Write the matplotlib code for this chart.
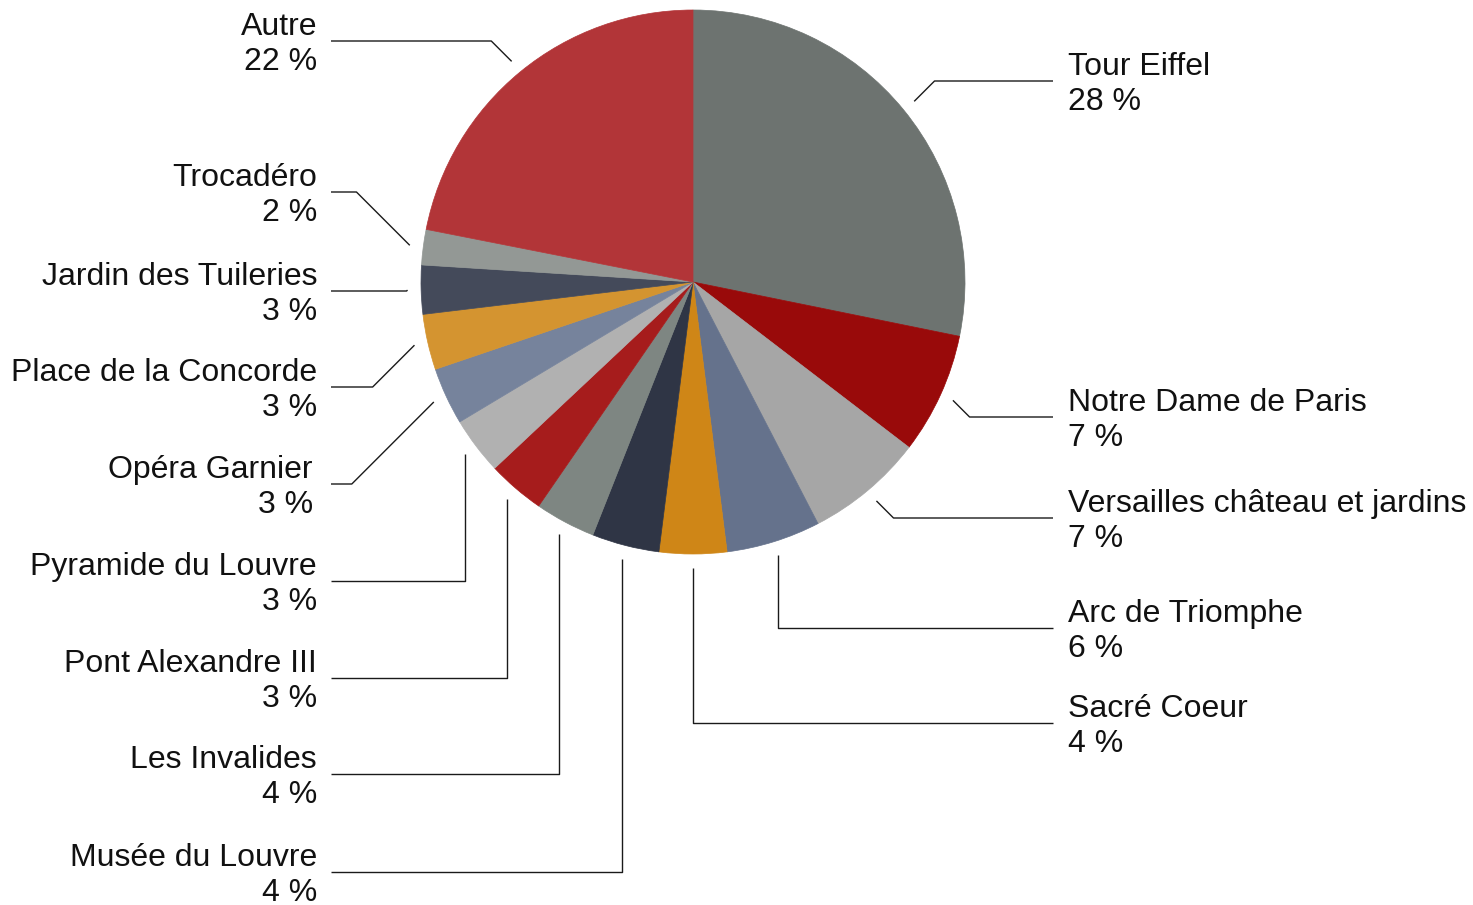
import math
import matplotlib.pyplot as plt

# data: share of visits (%), clockwise from the top
names = ["Tour Eiffel", "Notre Dame de Paris", "Versailles château et jardins",
         "Arc de Triomphe", "Sacré Coeur", "Musée du Louvre", "Les Invalides",
         "Pont Alexandre III", "Pyramide du Louvre", "Opéra Garnier",
         "Place de la Concorde", "Jardin des Tuileries", "Trocadéro", "Autre"]
values = [28.2, 7.2, 7.0, 5.6, 4.0, 4.0, 3.6, 3.4, 3.4, 3.4, 3.3, 2.9, 2.1, 21.9]
colors = ["#6d7370", "#990a0a", "#a6a6a6", "#65728c", "#cf8617", "#2f3545",
          "#7e8682", "#a61c1c", "#b1b1b1", "#76839c", "#d49430", "#444a5a",
          "#939895", "#b23538"]

# layout (pixels, y from top)
W, H = 1473, 905
cx, cy, R = 693, 282, 272
label_y = [81, 417, 518, 628, 723, 872, 774, 678, 581, 484, 387, 291, 192, 41]
leader = ["d", "d", "d", "v", "v", "v", "v", "v", "v", "d", "d", "d", "d", "d"]

plt.rcParams['font.family'] = ['Liberation Sans', 'DejaVu Sans']

fig = plt.figure(figsize=(W / 100, H / 100), dpi=100)
ax = fig.add_axes([0, 0, 1, 1])

wedges, _ = ax.pie(values, colors=colors, startangle=90, counterclock=False,
                   center=(cx, H - cy), radius=R)

for w, c in zip(wedges, colors):
    w.set_edgecolor(c)
    w.set_linewidth(0.5)

for w, name, v, ly, kind in zip(wedges, names, values, label_y, leader):
    ang = math.radians((w.theta1 + w.theta2) / 2)
    sx = cx + 1.05 * R * math.cos(ang)
    sy = cy - 1.05 * R * math.sin(ang)
    right = sx > cx - 5
    if kind == "d":
        ex = sx + (abs(ly - sy) if right else -abs(ly - sy))
    else:
        ex = sx
    endx = 1053 if right else 331
    ax.plot([sx, ex, endx], [H - sy, H - ly, H - ly], color="#1a1a1a", lw=1.0,
            solid_capstyle="butt")
    if right:
        tx, ha = 1068, "left"
    else:
        tx, ha = (313 if name == "Opéra Garnier" else 317), "right"
    ax.text(tx, H - ly + 6, name, ha=ha, va="baseline", fontsize=23, color="#111111")
    ax.text(tx, H - ly - 29, "%.0f %%" % v, ha=ha, va="baseline", fontsize=23,
            color="#111111")

ax.set_xlim(0, W)
ax.set_ylim(0, H)
ax.set_aspect("equal")
ax.axis("off")
fig.savefig("out.png", dpi=100)
